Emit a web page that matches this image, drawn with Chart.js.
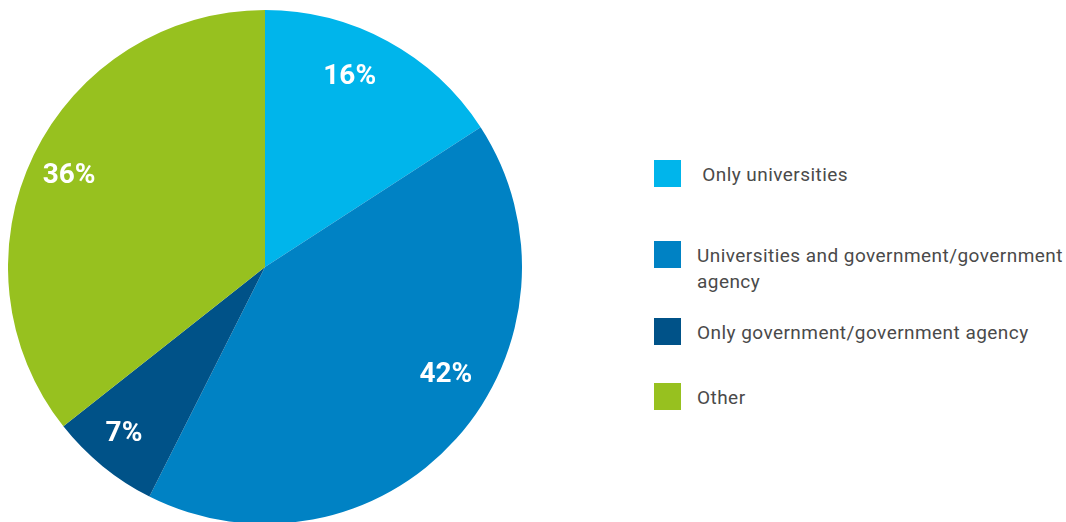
<!DOCTYPE html>
<html>
<head>
<meta charset="utf-8">
<script src="https://cdn.jsdelivr.net/npm/chart.js@4.4.1/dist/chart.umd.min.js"></script>
<style>
    html, body {
        margin: 0;
        padding: 0;
        background: #ffffff;
        overflow: hidden;
        width: 1066px;
        height: 522px;
    }
    #pieBox {
        position: absolute;
        left: 8px;
        top: 10px;
        width: 514px;
        height: 514px;
    }
    #legend {
        position: absolute;
        left: 654px;
        top: 0;
        width: 412px;
        font-family: Roboto, sans-serif;
        font-size: 19px;
        letter-spacing: 0.45px;
        color: #4a4a4a;
    }
    .item {
        position: absolute;
        left: 0;
        display: flex;
        align-items: flex-start;
    }
    .item .box {
        width: 27px;
        height: 27px;
        flex: none;
    }
    .item .txt {
        margin-left: 16px;
        padding-top: 2px;
        width: 372px;
        line-height: 26px;
        white-space: pre-wrap;
    }
    .item:nth-child(1) { top: 160px; }
    .item:nth-child(2) { top: 241px; }
    .item:nth-child(3) { top: 318px; }
    .item:nth-child(4) { top: 383px; }
</style>
</head>
<body>
<div id="pieBox"><canvas id="pieChart" width="514" height="514"></canvas></div>
<div id="legend"></div>
<script>
// Dữ liệu
const categories = [
    ' Only universities',
    'Universities and government/government agency',
    'Only government/government agency',
    'Other'
];
const shares = [16, 42, 7, 36];
const sliceColors = ['#00b5eb', '#0082c4', '#005288', '#97c11f'];

// vị trí nhãn % (độ lệch góc, tỉ lệ bán kính)
const labelShift = [-4.5, -11, 1, -1];
const labelRadius = [0.81, 0.82, 0.85, 0.84];

const pctLabels = {
    id: 'pctLabels',
    afterDatasetsDraw(chart) {
        const c = chart.ctx;
        const meta = chart.getDatasetMeta(0);
        c.save();
        c.fillStyle = '#ffffff';
        c.font = 'bold 28px Roboto, sans-serif';
        c.textAlign = 'center';
        c.textBaseline = 'middle';
        meta.data.forEach(function (arc, i) {
            const p = arc.getProps(['x', 'y', 'startAngle', 'endAngle', 'outerRadius'], true);
            const mid = (p.startAngle + p.endAngle) / 2 + labelShift[i] * Math.PI / 180;
            const r = p.outerRadius * labelRadius[i];
            c.fillText(shares[i] + '%', p.x + Math.cos(mid) * r, p.y + Math.sin(mid) * r);
        });
        c.restore();
    }
};

const ctx = document.getElementById('pieChart').getContext('2d');
const pieChart = new Chart(ctx, {
    type: 'pie',
    data: {
        labels: categories,
        datasets: [{
            data: shares,
            backgroundColor: sliceColors,
            borderWidth: 0
        }]
    },
    options: {
        responsive: false,
        animation: false,
        layout: { padding: 0 },
        plugins: {
            legend: { display: false },
            tooltip: { enabled: false }
        }
    },
    plugins: [pctLabels]
});

// chú thích
const legendEl = document.getElementById('legend');
categories.forEach(function (name, i) {
    const item = document.createElement('div');
    item.className = 'item';
    item.innerHTML = '<div class="box" style="background:' + sliceColors[i] + '"></div><div class="txt"></div>';
    item.querySelector('.txt').textContent = name;
    legendEl.appendChild(item);
});
</script>
</body>
</html>
